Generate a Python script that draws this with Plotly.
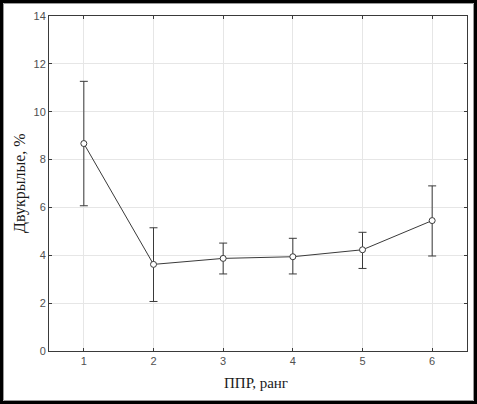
import plotly.graph_objects as go

# data
ranks = [1, 2, 3, 4, 5, 6]
means = [8.67, 3.62, 3.87, 3.94, 4.23, 5.45]
err_up = [2.6, 1.53, 0.64, 0.77, 0.73, 1.45]
err_down = [2.6, 1.55, 0.65, 0.72, 0.78, 1.48]
x_ticks = [1, 2, 3, 4, 5, 6]
y_ticks = [0, 2, 4, 6, 8, 10, 12, 14]

W, H = 477, 404
M = dict(l=49, r=10, t=16, b=53)

LINE = "#3a3a3a"
GRID = "#e6e6e6"
TICK = "#505050"
SERIF = "Liberation Serif, Times New Roman, serif"

fig = go.Figure()
fig.add_trace(go.Scatter(
    x=ranks, y=means, mode="lines+markers",
    line=dict(color=LINE, width=1),
    marker=dict(symbol="circle", size=6, color="white",
                line=dict(color=LINE, width=1)),
    error_y=dict(type="data", symmetric=False, array=err_up,
                 arrayminus=err_down, color=LINE, thickness=1, width=4),
    showlegend=False,
))

# paper units for pixel positions outside the plot area
pw = W - M["l"] - M["r"]
ph = H - M["t"] - M["b"]


def px_x(v):
    return (v - M["l"]) / pw


def px_y(v):
    return (H - M["b"] - v) / ph


# picture frame
fig.add_shape(type="rect", xref="paper", yref="paper",
              x0=px_x(1.5), x1=px_x(W - 1.5), y0=px_y(H - 1.5), y1=px_y(1.5),
              line=dict(color="black", width=3), layer="above")
fig.add_shape(type="rect", xref="paper", yref="paper",
              x0=px_x(3.5), x1=px_x(W - 3.5), y0=px_y(H - 3.5), y1=px_y(3.5),
              line=dict(color="#9a9a9a", width=1), layer="above")

# axis titles
fig.add_annotation(text="ППР, ранг", xref="paper", yref="paper",
                   x=px_x(256), y=px_y(383), showarrow=False,
                   xanchor="center", yanchor="middle",
                   font=dict(family=SERIF, size=15, color="#1a1a1a"))
fig.add_annotation(text="Двукрылые, %", xref="paper", yref="paper",
                   x=px_x(20), y=px_y(183), showarrow=False, textangle=-90,
                   xanchor="center", yanchor="middle",
                   font=dict(family=SERIF, size=16, color="#1a1a1a"))

fig.update_layout(
    width=W, height=H,
    margin=M,
    paper_bgcolor="white",
    plot_bgcolor="white",
    font=dict(family="Liberation Sans, Arial, sans-serif", size=11, color=TICK),
)

fig.update_xaxes(
    range=[0.5, 6.5], tickvals=x_ticks, ticks="inside", ticklen=3,
    tickcolor=LINE, showline=True, linecolor=LINE, linewidth=1, mirror="ticks",
    showgrid=True, gridcolor=GRID, gridwidth=1, zeroline=False,
    automargin=False, tickfont=dict(size=11, color=TICK),
)
fig.update_yaxes(
    range=[0, 14], tickvals=y_ticks, ticks="inside", ticklen=3,
    tickcolor=LINE, showline=True, linecolor=LINE, linewidth=1, mirror="ticks",
    showgrid=True, gridcolor=GRID, gridwidth=1, zeroline=False,
    automargin=False, tickfont=dict(size=11, color=TICK),
)

fig.write_html("out.html", config={"displayModeBar": False},
               post_script="document.body.style.margin='0';"
                           "document.body.style.overflow='hidden';")
